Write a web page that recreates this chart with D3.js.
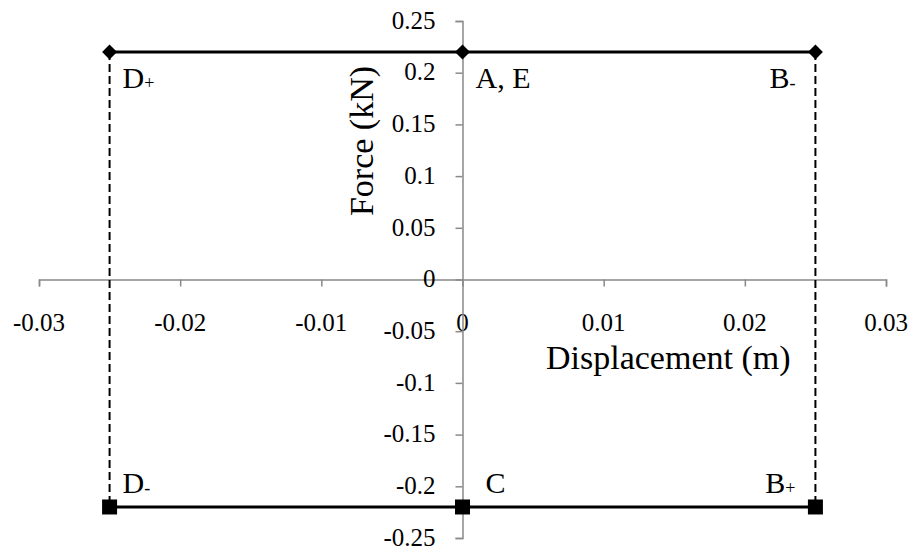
<!DOCTYPE html>
<html>
<head>
<meta charset="utf-8">
<script src="https://cdn.jsdelivr.net/npm/d3@7"></script>
<style>
body { margin: 0; background: white; }
text { font-family: "Liberation Serif", "Times New Roman", serif; }
</style>
</head>
<body>
<script>
// tick values
var x_ticks = [-0.03, -0.02, -0.01, 0, 0.01, 0.02, 0.03]
var y_ticks = [-0.25, -0.2, -0.15, -0.1, -0.05, 0, 0.05, 0.1, 0.15, 0.2, 0.25]

// series: upper (diamonds) and lower (squares)
var upper_x = [-0.025, 0, 0.025]
var upper_y = [0.22, 0.22, 0.22]
var lower_x = [-0.025, 0, 0.025]
var lower_y = [-0.22, -0.22, -0.22]

// dashed verticals at the turning points
var dash_x = [-0.025, 0.025]
var dash_y = [0.22, -0.22]

// point labels
var label_x = [-0.025, 0, 0.025, -0.025, 0, 0.025]
var label_y = [0.22, 0.22, 0.22, -0.22, -0.22, -0.22]
var label_main = ["D", "A, E", "B", "D", "C", "B"]
var label_sub = ["+", "", "-", "-", "", "+"]

var w = 912
var h = 551

var x = d3.scaleLinear().domain([-0.03, 0.03]).range([39, 886])
var y = d3.scaleLinear().domain([-0.25, 0.25]).range([538, 21])

var svg = d3.select("body").append("svg")
    .attr("width", w)
    .attr("height", h)

var axis_color = "#898989"
var tick_font = 25

// x axis
var xAxis = svg.append("g")
    .attr("transform", "translate(0," + y(0) + ")")
    .call(d3.axisBottom(x).tickValues(x_ticks).tickSize(7).tickFormat(""))
xAxis.selectAll("path, line").attr("stroke", axis_color).attr("stroke-width", 1.5)

xAxis.selectAll(".tl")
    .data(x_ticks)
    .enter()
    .append("text")
    .attr("x", d => x(d))
    .attr("y", 51)
    .attr("text-anchor", "middle")
    .attr("fill", "black")
    .attr("font-size", tick_font)
    .text(d => String(d))

// y axis
var yAxis = svg.append("g")
    .attr("transform", "translate(" + x(0) + ",0)")
    .call(d3.axisLeft(y).tickValues(y_ticks).tickSize(7).tickFormat(""))
yAxis.selectAll("path, line").attr("stroke", axis_color).attr("stroke-width", 1.5)

yAxis.selectAll(".tl")
    .data(y_ticks)
    .enter()
    .append("text")
    .attr("x", -27)
    .attr("y", d => y(d))
    .attr("dy", "0.31em")
    .attr("text-anchor", "end")
    .attr("fill", "black")
    .attr("font-size", tick_font)
    .text(d => String(+d.toFixed(2)))

// axis titles
svg.append("text")
    .attr("x", 546)
    .attr("y", 369)
    .attr("font-size", 34)
    .text("Displacement (m)")

svg.append("text")
    .attr("transform", "translate(373,141) rotate(-90)")
    .attr("text-anchor", "middle")
    .attr("font-size", 34)
    .text("Force (kN)")

// dashed verticals
svg.selectAll(".dash")
    .data(dash_x)
    .enter()
    .append("line")
    .attr("x1", d => x(d))
    .attr("x2", d => x(d))
    .attr("y1", y(dash_y[0]))
    .attr("y2", y(dash_y[1]))
    .attr("stroke", "black")
    .attr("stroke-width", 2)
    .attr("stroke-dasharray", "8,4")

var line = d3.line().x(d => x(d[0])).y(d => y(d[1]))

svg.append("path")
    .attr("d", line(d3.zip(upper_x, upper_y)))
    .attr("fill", "none")
    .attr("stroke", "black")
    .attr("stroke-width", 3.2)

svg.append("path")
    .attr("d", line(d3.zip(lower_x, lower_y)))
    .attr("fill", "none")
    .attr("stroke", "black")
    .attr("stroke-width", 3.2)

// markers
svg.selectAll(".diamond")
    .data(d3.zip(upper_x, upper_y))
    .enter()
    .append("path")
    .attr("d", d3.symbol(d3.symbolSquare, 112))
    .attr("transform", d => "translate(" + x(d[0]) + "," + y(d[1]) + ") rotate(45)")
    .attr("fill", "black")

svg.selectAll(".square")
    .data(d3.zip(lower_x, lower_y))
    .enter()
    .append("path")
    .attr("d", d3.symbol(d3.symbolSquare, 225))
    .attr("transform", d => "translate(" + x(d[0]) + "," + y(d[1]) + ")")
    .attr("fill", "black")

// point labels
var labels = svg.selectAll(".pt")
    .data(label_main)
    .enter()
    .append("text")
    .attr("x", (d, i) => label_x[i] > 0 ? x(label_x[i]) - 20 : x(label_x[i]) + (d === "C" ? 23 : 13))
    .attr("y", (d, i) => label_y[i] > 0 ? y(label_y[i]) + 36 : y(label_y[i]) - 14)
    .attr("text-anchor", (d, i) => label_x[i] > 0 ? "end" : "start")
    .attr("font-size", 30)
labels.append("tspan").text(d => d)
labels.append("tspan")
    .attr("font-size", 18)
    .attr("dy", 1)
    .text((d, i) => label_sub[i])
</script>
</body>
</html>
